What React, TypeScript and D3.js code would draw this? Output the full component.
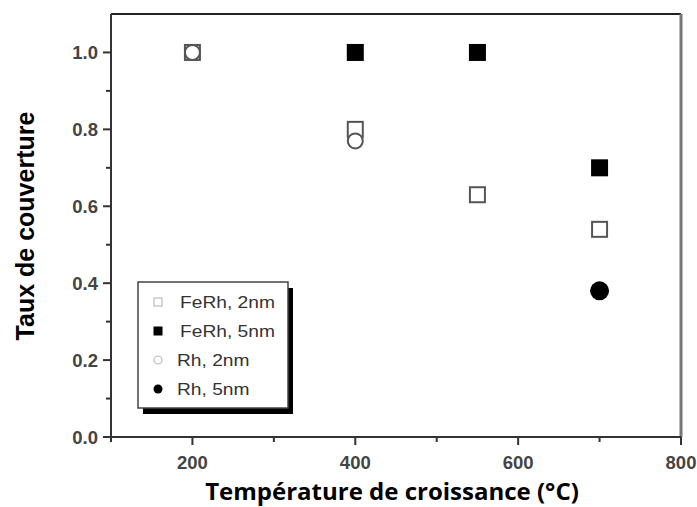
import React from "react";
import * as d3 from "d3";

const feRh2nmX = [200, 400, 550, 700];
const feRh2nmY = [1.0, 0.8, 0.63, 0.54];
const feRh5nmX = [400, 550, 700];
const feRh5nmY = [1.0, 1.0, 0.7];
const rh2nmX = [200, 400];
const rh2nmY = [1.0, 0.77];
const rh5nmX = [700];
const rh5nmY = [0.38];
const xTicks = [200, 400, 600, 800];
const xMinor = [100, 300, 500, 700];
const yTicks = [0, 0.2, 0.4, 0.6, 0.8, 1.0];
const yMinor = [0.1, 0.3, 0.5, 0.7, 0.9];
const legendLabels = ["FeRh, 2nm", "FeRh, 5nm", "Rh, 2nm", "Rh, 5nm"];

const W = 697, H = 507;
const L = 111, R = 681, T = 14, B = 437;

export default function App() {
  const x = d3.scaleLinear().domain([100, 800]).range([L, R]);
  const y = d3.scaleLinear().domain([0, 1.1]).range([B, T]);
  const sq = 17;
  const tickFont = "Liberation Sans, Arial, sans-serif";
  const axisCol = "#333";
  return (
    <svg width={W} height={H} style={{ position: "absolute", left: 0, top: 0, background: "#fff" }}>
      {/* frame */}
      <line x1={L} x2={R} y1={T} y2={T} stroke="#222" strokeWidth={2} />
      <line x1={R} x2={R} y1={T} y2={B} stroke="#777" strokeWidth={3} />
      <line x1={L} x2={L} y1={T} y2={B} stroke={axisCol} strokeWidth={2} />
      <line x1={L} x2={R} y1={B} y2={B} stroke={axisCol} strokeWidth={2} />
      {yTicks.map((v) => (
        <g key={"yt" + v}>
          <line x1={L - 8} x2={L} y1={y(v)} y2={y(v)} stroke={axisCol} strokeWidth={2} />
          <text x={L - 13} y={y(v) + 6.5} textAnchor="end" fontFamily={tickFont} fontWeight="bold" fontSize={18.5} fill="#444">
            {v.toFixed(1)}
          </text>
        </g>
      ))}
      {yMinor.map((v) => (
        <line key={"ym" + v} x1={L - 5} x2={L} y1={y(v)} y2={y(v)} stroke={axisCol} strokeWidth={2} />
      ))}
      {xTicks.map((v) => (
        <g key={"xt" + v}>
          <line x1={x(v)} x2={x(v)} y1={B} y2={B + 8} stroke={axisCol} strokeWidth={2} />
          <text x={x(v)} y={B + 32} textAnchor="middle" fontFamily={tickFont} fontWeight="bold" fontSize={18.5} fill="#444">
            {v}
          </text>
        </g>
      ))}
      {xMinor.map((v) => (
        <line key={"xm" + v} x1={x(v)} x2={x(v)} y1={B} y2={B + 5} stroke={axisCol} strokeWidth={2} />
      ))}
      {/* axis titles */}
      <text x={392} y={500} textAnchor="middle" fontFamily="Open Sans, sans-serif" fontWeight="bold" fontSize={24} fill="#000">
        Température de croissance (°C)
      </text>
      <text transform="translate(34,226) rotate(-90)" textAnchor="middle" fontFamily="Liberation Sans, Arial, sans-serif" fontWeight="bold" fontSize={25} fill="#000">
        Taux de couverture
      </text>
      {/* data */}
      {feRh5nmX.map((v, i) => (
        <rect key={"f5" + i} x={x(v) - sq / 2} y={y(feRh5nmY[i]) - sq / 2} width={sq} height={sq} fill="#000" />
      ))}
      {feRh2nmX.map((v, i) => (
        <rect key={"f2" + i} x={x(v) - sq / 2 + 1} y={y(feRh2nmY[i]) - sq / 2 + 1} width={sq - 2} height={sq - 2} fill="#fff" stroke="#555" strokeWidth={2} />
      ))}
      {rh2nmX.map((v, i) => (
        <circle key={"r2" + i} cx={x(v)} cy={y(rh2nmY[i])} r={sq / 2 - 1} fill="#fff" stroke="#555" strokeWidth={2} />
      ))}
      {rh5nmX.map((v, i) => (
        <circle key={"r5" + i} cx={x(v)} cy={y(rh5nmY[i])} r={9.5} fill="#000" />
      ))}
      {/* legend */}
      <rect x={143} y={288} width={150} height={126} fill="#000" />
      <rect x={138} y={282} width={150} height={126} fill="#fff" stroke="#444" strokeWidth={1.5} />
      {legendLabels.map((lab, i) => {
        const cy = 302 + i * 29;
        const mx = 158;
        let mark;
        if (i === 0) mark = <rect x={mx - 4} y={cy - 4} width={8} height={8} fill="none" stroke="#bbb" strokeWidth={1.2} />;
        else if (i === 1) mark = <rect x={mx - 4.5} y={cy - 4.5} width={9} height={9} fill="#000" />;
        else if (i === 2) mark = <circle cx={mx} cy={cy} r={4} fill="none" stroke="#bbb" strokeWidth={1.2} />;
        else mark = <circle cx={mx} cy={cy} r={4.5} fill="#000" />;
        return (
          <g key={"lg" + i}>
            {mark}
            <text transform={`translate(${i < 2 ? 180 : 177},${cy + 6}) scale(1.2,1)`} fontFamily={tickFont} fontSize={16} fill="#333">
              {lab}
            </text>
          </g>
        );
      })}
    </svg>
  );
}
